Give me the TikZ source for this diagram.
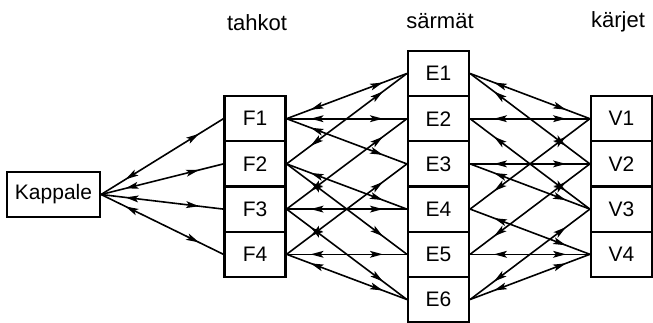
\documentclass[tikz,border=0pt]{standalone}
\usepackage{fontspec}
\setmainfont{Liberation Sans}
\usetikzlibrary{decorations.markings}
\begin{document}
\begin{tikzpicture}[x=1pt,y=-1pt,
  box/.style={draw,line width=2.2pt,minimum width=61pt,minimum height=45.2pt,inner sep=0pt,
    font=\fontsize{21}{25}\selectfont},
  head/.style={anchor=base,inner sep=0pt,font=\fontsize{22}{26}\selectfont},
  link/.style={line width=1.6pt,postaction={decorate},decoration={markings,
     mark=at position 0.2 with {\fill (0pt,0pt) -- (13pt,3.5pt) -- (10pt,0pt) -- (13pt,-3.5pt) -- cycle;},
     mark=at position 0.8 with {\fill (0pt,0pt) -- (-13pt,3.5pt) -- (-10pt,0pt) -- (-13pt,-3.5pt) -- cycle;}}}]
\useasboundingbox (0,0) rectangle (653,322);
% headings
\node[head] (hF) at (257,30) {tahkot};
\node[head] (hE) at (440,28) {särmät};
\node[head] (hV) at (618,27) {kärjet};
% boxes
\node[box,minimum width=93pt,minimum height=45pt] (K) at (53.5,194.5) {Kappale};
\foreach \i in {1,...,4}{
  \node[box] (F\i) at (255,{73.5+45.2*\i}) {F\i};
  \node[box] (V\i) at (621.5,{73.5+45.2*\i}) {V\i};
}
\foreach \i in {1,...,6}{
  \node[box] (E\i) at (438.5,{73.5+45.2*(\i-1)}) {E\i};
}
% connectors
\foreach \i in {1,...,4}{ \draw[link] (K.east) -- (F\i.west); }
\foreach \f/\e in {1/1,1/2,1/3,2/1,2/4,2/5,3/2,3/4,3/6,4/3,4/5,4/6}{
  \draw[link] (F\f.east) -- (E\e.west);
}
\foreach \e/\v in {1/1,1/2,2/1,2/3,3/2,3/3,4/1,4/4,5/2,5/4,6/3,6/4}{
  \draw[link] (E\e.east) -- (V\v.west);
}
\end{tikzpicture}
\end{document}
